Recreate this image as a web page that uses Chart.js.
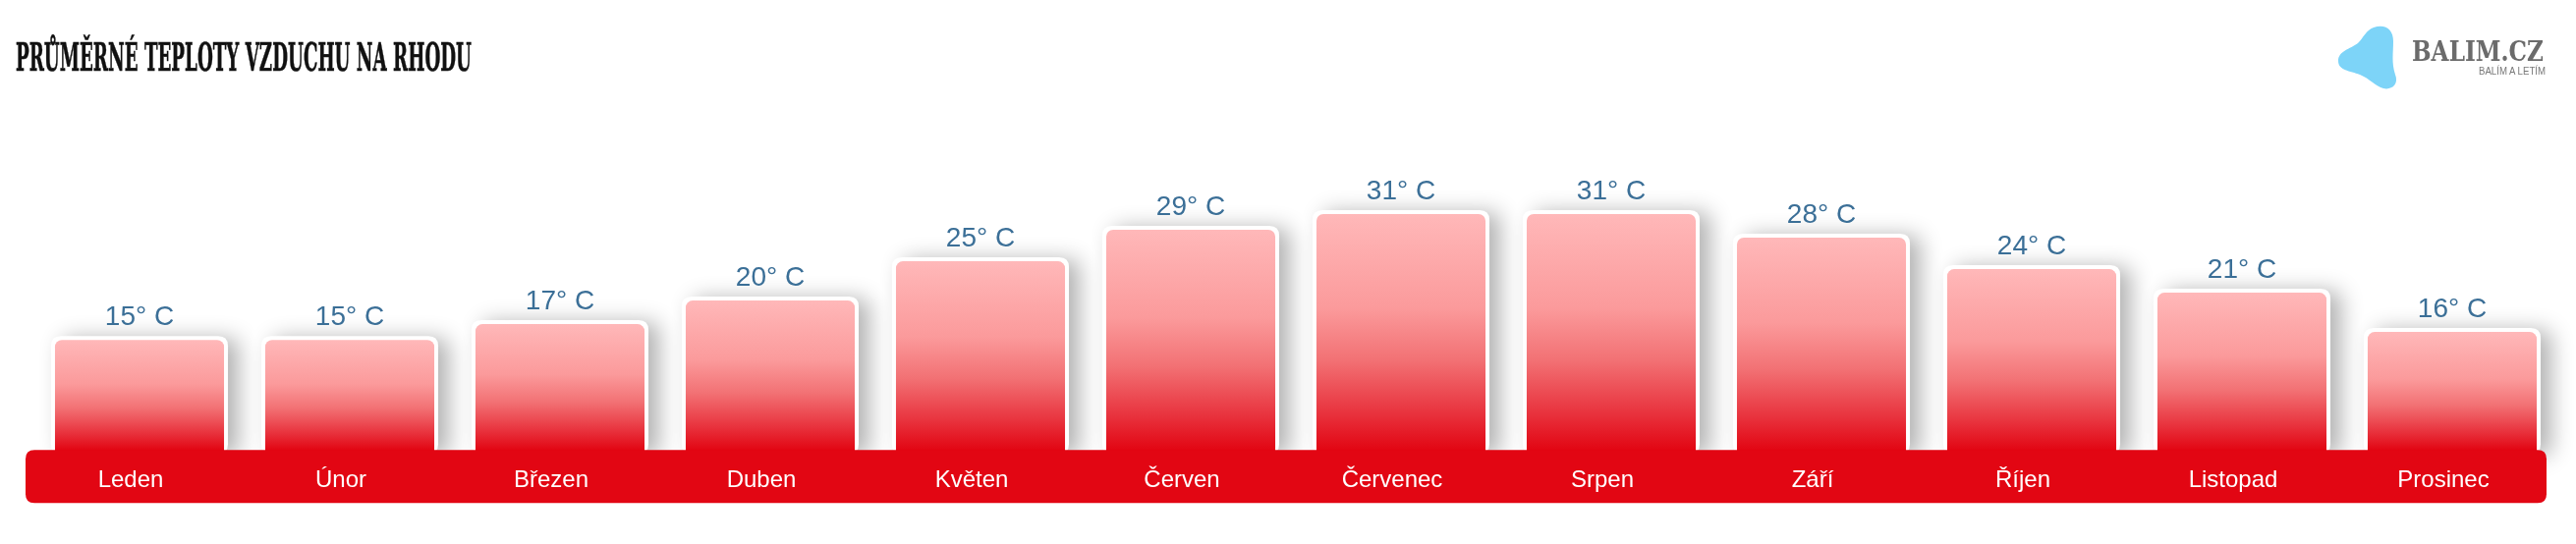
<!DOCTYPE html>
<html>
<head>
<meta charset="utf-8">
<script src="https://cdn.jsdelivr.net/npm/chart.js@4.4.1/dist/chart.umd.min.js"></script>
<style>
  html, body { margin: 0; padding: 0; background: #fff; }
  #wrap { position: relative; width: 2622px; height: 554px; overflow: hidden; }
  #c { position: absolute; left: 0; top: 0; }
  .fit { position: absolute; white-space: nowrap; transform-origin: 0 0; line-height: 1; }
  #title { left: 16px; top: 38px; font-family: "DejaVu Serif", serif; font-weight: bold; font-size: 40px; color: #111; -webkit-text-stroke: 0.6px #111; }
  #brand { left: 2455px; top: 39px; font-family: "DejaVu Serif", serif; font-weight: bold; font-size: 27px; color: #6b6b6b; }
  #tag { left: 2523px; top: 68px; font-family: "Liberation Sans", Arial, sans-serif; font-size: 10px; color: #777; }
  #blob { position: absolute; left: 2376px; top: 24px; }
</style>
</head>
<body>
<div id="wrap">
  <canvas id="c" width="2622" height="554"></canvas>
  <div id="title" class="fit" data-w="464">PRŮMĚRNÉ TEPLOTY VZDUCHU NA RHODU</div>
  <svg id="blob" width="72" height="70" viewBox="0 0 72 70">
    <path d="M40 4 C52 0 60 6 60 18 C60 30 58 40 62 52 C66 62 58 68 50 66 C42 64 36 56 26 52 C16 48 4 48 4 38 C4 28 16 26 24 20 C30 14 32 7 40 4 Z" fill="#7dd4f8"/>
  </svg>
  <div id="brand" class="fit" data-w="134">BALIM.CZ</div>
  <div id="tag" class="fit" data-w="68">BALÍM A LETÍM</div>
</div>
<script>
// ---- data ----
const months = ['Leden','Únor','Březen','Duben','Květen','Červen','Červenec','Srpen','Září','Říjen','Listopad','Prosinec'];
const temps = [15, 15, 17, 20, 25, 29, 31, 31, 28, 24, 21, 16];
const unitSuffix = '° C';
const yMin = 0;
const yMax = 40;

// fit text widths
document.querySelectorAll('.fit').forEach(el => {
  const target = parseFloat(el.dataset.w);
  const w = el.getBoundingClientRect().width;
  if (w > 0) el.style.transform = 'scaleX(' + (target / w) + ')';
});

const BAND_RED = '#e20613';

function barGradient(c) {
  const chart = c.chart;
  const ca = chart.chartArea;
  if (!ca || c.raw == null) return '#f88';
  const top = chart.scales.y.getPixelForValue(c.raw);
  const bottom = ca.bottom - 8;
  const g = chart.ctx.createLinearGradient(0, top, 0, bottom);
  g.addColorStop(0, '#ffb8b9');
  g.addColorStop(0.4, '#fb9a9b');
  g.addColorStop(0.62, '#f27174');
  g.addColorStop(0.85, '#e8313c');
  g.addColorStop(1, BAND_RED);
  return g;
}

function roundRectPath(ctx, x, y, w, h, r) {
  ctx.beginPath();
  ctx.moveTo(x + r, y);
  ctx.lineTo(x + w - r, y);
  ctx.quadraticCurveTo(x + w, y, x + w, y + r);
  ctx.lineTo(x + w, y + h - r);
  ctx.quadraticCurveTo(x + w, y + h, x + w - r, y + h);
  ctx.lineTo(x + r, y + h);
  ctx.quadraticCurveTo(x, y + h, x, y + h - r);
  ctx.lineTo(x, y + r);
  ctx.quadraticCurveTo(x, y, x + r, y);
  ctx.closePath();
}

const decor = {
  id: 'decor',
  beforeDatasetsDraw(chart) {
    const ctx = chart.ctx;
    const meta = chart.getDatasetMeta(0);
    ctx.save();
    meta.data.forEach(bar => {
      const p = bar.getProps(['x', 'y', 'width', 'base'], true);
      const x = p.x - p.width / 2 - 4;
      const y = p.y - 4;
      const w = p.width + 8;
      const h = p.base - p.y;
      ctx.save();
      ctx.shadowColor = 'rgba(0,0,0,0.30)';
      ctx.shadowBlur = 22;
      ctx.shadowOffsetX = 11;
      ctx.shadowOffsetY = 2;
      ctx.fillStyle = '#ffffff';
      roundRectPath(ctx, x, y, w, h, 10);
      ctx.fill();
      ctx.restore();
    });
    ctx.restore();
  },
  afterDatasetsDraw(chart) {
    const ctx = chart.ctx;
    const ca = chart.chartArea;
    ctx.save();
    // red band
    ctx.fillStyle = BAND_RED;
    roundRectPath(ctx, ca.left - 9, ca.bottom - 8, ca.right - ca.left - 2, 54, 9);
    ctx.fill();
    // value labels
    const meta = chart.getDatasetMeta(0);
    ctx.fillStyle = '#3b6f97';
    ctx.font = '28px "Liberation Sans", Arial, sans-serif';
    ctx.textAlign = 'center';
    ctx.textBaseline = 'middle';
    meta.data.forEach((bar, i) => {
      const p = bar.getProps(['x', 'y'], true);
      ctx.fillText(temps[i] + unitSuffix, p.x, p.y - 23);
    });
    ctx.restore();
  }
};

new Chart(document.getElementById('c'), {
  type: 'bar',
  data: {
    labels: months,
    datasets: [{
      data: temps,
      backgroundColor: barGradient,
      borderWidth: 0,
      borderRadius: { topLeft: 7, topRight: 7, bottomLeft: 0, bottomRight: 0 },
      borderSkipped: false,
      categoryPercentage: 1,
      barPercentage: 0.804
    }]
  },
  options: {
    responsive: false,
    animation: false,
    events: [],
    layout: { padding: { left: 35, right: 19, top: 146, bottom: 41 } },
    plugins: { legend: { display: false }, tooltip: { enabled: false }, title: { display: false } },
    scales: {
      x: {
        z: 1,
        border: { display: false },
        grid: { display: false, drawTicks: false },
        ticks: {
          z: 2,
          color: '#ffffff',
          padding: 9,
          labelOffset: -9,
          maxRotation: 0,
          autoSkip: false,
          font: { family: '"Liberation Sans", Arial, sans-serif', size: 24 }
        }
      },
      y: {
        display: false,
        min: yMin,
        max: yMax
      }
    }
  },
  plugins: [decor]
});
</script>
</body>
</html>
